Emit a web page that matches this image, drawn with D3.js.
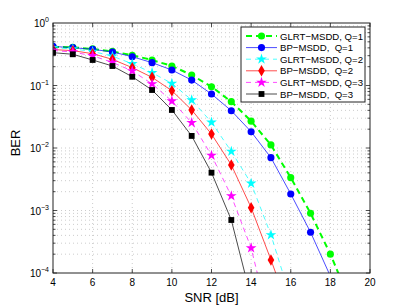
<!DOCTYPE html>
<html>
<head>
<meta charset="utf-8">
<script src="https://cdn.jsdelivr.net/npm/d3@7"></script>
<style>
  body { margin: 0; background: #fff; }
  text { font-family: "Liberation Sans", Arial, sans-serif; fill: #000; }
</style>
</head>
<body>
<div id="chart"></div>
<script>
// curve BER vs SNR, asse y logaritmico (stile MATLAB)
const snr = [4, 5, 6, 7, 8, 9, 10, 11, 12, 13, 14, 15, 16, 17, 18, 19];

const glrtQ1 = [0.417, 0.407, 0.385, 0.351, 0.305, 0.256, 0.205, 0.147, 0.0957, 0.0551, 0.0269, 0.0112, 0.00335, 0.000902, 0.0002, 3.5e-5];
const bpQ1   = [0.422, 0.403, 0.379, 0.344, 0.289, 0.232, 0.177, 0.122, 0.0731, 0.0395, 0.0182, 0.0070, 0.00184, 0.000448, 8.9e-5];
const glrtQ2 = [0.403, 0.385, 0.351, 0.295, 0.223, 0.160, 0.108, 0.0586, 0.0258, 0.00881, 0.00272, 0.000407, 3.9e-5];
const bpQ2   = [0.376, 0.361, 0.323, 0.262, 0.193, 0.135, 0.0826, 0.0406, 0.0167, 0.00535, 0.00111, 0.000162, 2.2e-5];
const glrtQ3 = [0.363, 0.343, 0.299, 0.234, 0.171, 0.106, 0.0565, 0.0254, 0.00762, 0.00171, 0.000251, 1.3e-5];
const bpQ3   = [0.335, 0.316, 0.256, 0.205, 0.138, 0.0847, 0.0406, 0.0156, 0.00403, 0.000705, 4.0e-5];

const seriesNames = ['GLRT\u2212MSDD, Q=1', 'BP\u2212MSDD,\u00a0 Q=1', 'GLRT\u2212MSDD, Q=2', 'BP\u2212MSDD,\u00a0 Q=2', 'GLRT\u2212MSDD, Q=3', 'BP\u2212MSDD,\u00a0 Q=3'];
const xTicks = [4, 6, 8, 10, 12, 14, 16, 18, 20];
const yExps = [0, -1, -2, -3, -4];

const styles = [
    { values: glrtQ1, color: '#00ff00', dash: '6,4', width: 2,   symbol: d3.symbolCircle,  size: 40 },
    { values: bpQ1,   color: '#0000ff', dash: null,  width: 1,   symbol: d3.symbolCircle,  size: 40 },
    { values: glrtQ2, color: '#00ffff', dash: '5,4', width: 1,   symbol: d3.symbolStar,    size: 36 },
    { values: bpQ2,   color: '#ff0000', dash: null,  width: 1,   symbol: d3.symbolDiamond, size: 38 },
    { values: glrtQ3, color: '#ff00ff', dash: '5,4', width: 1,   symbol: d3.symbolStar,    size: 36 },
    { values: bpQ3,   color: '#000000', dash: null,  width: 1,   symbol: d3.symbolSquare,  size: 34 }
];

const W = 409, H = 308;
const margin = { top: 23, right: 39, bottom: 35, left: 53 };
const width = W - margin.left - margin.right;
const height = H - margin.top - margin.bottom;

const svg = d3.select('#chart').append('svg')
    .attr('width', W).attr('height', H);
const g = svg.append('g').attr('transform', `translate(${margin.left},${margin.top})`);

const x = d3.scaleLinear().domain([4, 20]).range([0, width]);
const y = d3.scaleLog().domain([1e-4, 1]).range([height, 0]);

// griglia
const minorY = [];
for (let e = -4; e < 0; e++) for (let m = 1; m <= 9; m++) minorY.push(m * Math.pow(10, e));

g.append('g').selectAll('line')
    .data(minorY.filter(v => v > 1e-4))
    .join('line')
    .attr('x1', 0).attr('x2', width)
    .attr('y1', d => y(d)).attr('y2', d => y(d))
    .attr('stroke', '#aaa').attr('stroke-width', 0.6)
    .attr('stroke-dasharray', '1,3');

g.append('g').selectAll('line')
    .data(xTicks.slice(1, -1))
    .join('line')
    .attr('x1', d => x(d)).attr('x2', d => x(d))
    .attr('y1', 0).attr('y2', height)
    .attr('stroke', '#aaa').attr('stroke-width', 0.6)
    .attr('stroke-dasharray', '1,3');

// curve
g.append('clipPath').attr('id', 'clip')
    .append('rect').attr('width', width).attr('height', height);

const line = d3.line().x((d, i) => x(snr[i])).y(d => y(d));

const plot = g.append('g').attr('clip-path', 'url(#clip)');
styles.forEach(s => {
    plot.append('path')
        .datum(s.values)
        .attr('d', line)
        .attr('fill', 'none')
        .attr('stroke', s.color)
        .attr('stroke-opacity', s.dash && s.width > 1 ? 1 : 0.7)
        .attr('stroke-width', s.width)
        .attr('stroke-dasharray', s.dash);
});
styles.forEach(s => {
    plot.append('g').selectAll('path')
        .data(s.values.map((v, i) => [snr[i], v]).filter(d => d[1] >= 1e-4))
        .join('path')
        .attr('transform', d => `translate(${x(d[0])},${y(d[1])})`)
        .attr('d', d3.symbol().type(s.symbol).size(s.size))
        .attr('fill', s.color);
});

// box e tick
g.append('rect').attr('width', width).attr('height', height)
    .attr('fill', 'none').attr('stroke', '#222').attr('stroke-width', 1);

const ticks = g.append('g').attr('stroke', '#222').attr('stroke-width', 0.8);
xTicks.forEach(t => {
    ticks.append('line').attr('x1', x(t)).attr('x2', x(t)).attr('y1', height).attr('y2', height - 4);
    ticks.append('line').attr('x1', x(t)).attr('x2', x(t)).attr('y1', 0).attr('y2', 4);
});
minorY.forEach(v => {
    const len = (Math.abs(Math.log10(v) - Math.round(Math.log10(v))) < 1e-9) ? 4 : 2.5;
    ticks.append('line').attr('x1', 0).attr('x2', len).attr('y1', y(v)).attr('y2', y(v));
    ticks.append('line').attr('x1', width).attr('x2', width - len).attr('y1', y(v)).attr('y2', y(v));
});

// etichette asse x
g.append('g').selectAll('text')
    .data(xTicks)
    .join('text')
    .attr('x', d => x(d)).attr('y', height + 13)
    .attr('text-anchor', 'middle')
    .attr('font-size', '10px')
    .text(d => d);

// etichette asse y
yExps.forEach(e => {
    const t = g.append('text')
        .attr('x', -4).attr('y', y(Math.pow(10, e)) + 4)
        .attr('text-anchor', 'end')
        .attr('font-size', '10px');
    t.append('tspan').text('10');
    t.append('tspan').attr('dy', -5).attr('font-size', '7px')
        .text(e === 0 ? '0' : '\u2212' + Math.abs(e));
});

g.append('text')
    .attr('x', width / 2).attr('y', height + 29)
    .attr('text-anchor', 'middle')
    .attr('font-size', '13px')
    .text('SNR [dB]');

g.append('text')
    .attr('transform', 'rotate(-90)')
    .attr('x', -height / 2 + 5).attr('y', -33)
    .attr('text-anchor', 'middle')
    .attr('font-size', '13px')
    .text('BER');

// legenda
const legend = svg.append('g').attr('transform', 'translate(241,27)');
legend.append('rect')
    .attr('width', 124).attr('height', 75)
    .attr('fill', '#fff').attr('stroke', '#222').attr('stroke-width', 1);

styles.forEach((s, i) => {
    const row = legend.append('g').attr('transform', `translate(0,${9 + i * 11.6})`);
    row.append('line')
        .attr('x1', 5).attr('x2', 36).attr('y1', 0).attr('y2', 0)
        .attr('stroke', s.color)
        .attr('stroke-opacity', s.dash && s.width > 1 ? 1 : 0.7)
        .attr('stroke-width', s.width)
        .attr('stroke-dasharray', s.dash);
    row.append('path')
        .attr('transform', 'translate(20.5,0)')
        .attr('d', d3.symbol().type(s.symbol).size(s.size))
        .attr('fill', s.color);
    row.append('text')
        .attr('x', 39).attr('y', 3.5)
        .attr('font-size', '9.6px')
        .text(seriesNames[i]);
});
</script>
</body>
</html>
